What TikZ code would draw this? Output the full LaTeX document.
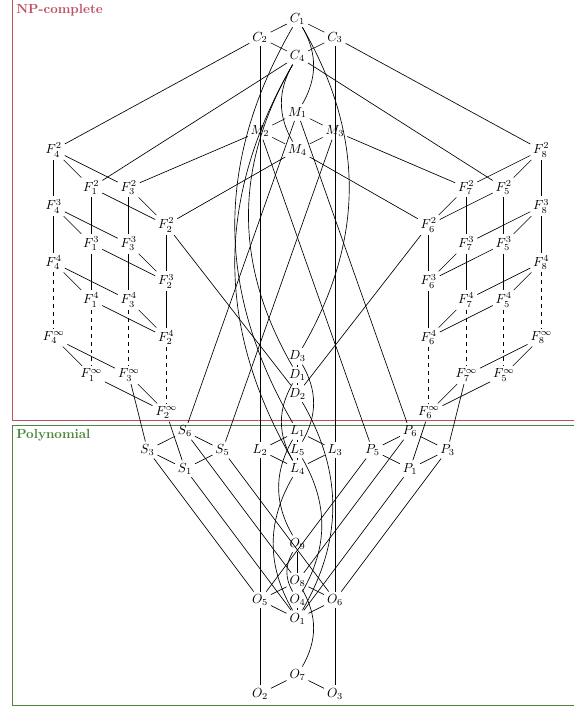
\documentclass[tikz,border=0pt]{standalone}
\usetikzlibrary{positioning}
\definecolor{npred}{RGB}{190,80,100}
\definecolor{polygreen}{RGB}{75,135,60}
\begin{document}
\begin{tikzpicture}[on grid, line width=0.5pt,
		cls/.style = {inner sep=2pt},
		region/.style = {line width=0.6pt},
		tag/.style = {anchor=north west, inner sep=3pt, font=\bfseries}]
	\useasboundingbox (-7.933,0) rectangle (7.347,-18.933);
	% the two regions
	\draw[region, npred] (-7.613,0.2) rectangle (7.613,-11.213);
	\draw[region, polygreen] (-7.613,-11.333) rectangle (7.613,-18.82);
	\node[tag, text=npred] (np) at (-7.613,0) {NP-complete};
	\node[tag, text=polygreen] (poly) at (-7.613,-11.333) {Polynomial};
	% C and M
	\node[cls] (C1) at (0,-0.5) {$C_1$};
	\node[cls] (C2) [below left=0.5cm and 1cm of C1] {$C_2$};
	\node[cls] (C3) [below right=0.5cm and 1cm of C1] {$C_3$};
	\node[cls] (C4) [below=1cm of C1] {$C_4$};
	\node[cls] (M1) at (0,-3) {$M_1$};
	\node[cls] (M2) [below left=0.5cm and 1cm of M1] {$M_2$};
	\node[cls] (M3) [below right=0.5cm and 1cm of M1] {$M_3$};
	\node[cls] (M4) [below=1cm of M1] {$M_4$};
	% left cube
	\node[cls] (F42) at (-6.5,-4) {$F_4^2$};
	\node[cls] (F12) [below right=1cm and 1cm of F42] {$F_1^2$};
	\node[cls] (F32) [below right=1cm and 2cm of F42] {$F_3^2$};
	\node[cls] (F22) [below right=2cm and 3cm of F42] {$F_2^2$};
	\node[cls] (F43) [below=1.5cm of F42] {$F_4^3$};
	\node[cls] (F13) [below right=1cm and 1cm of F43] {$F_1^3$};
	\node[cls] (F33) [below right=1cm and 2cm of F43] {$F_3^3$};
	\node[cls] (F23) [below right=2cm and 3cm of F43] {$F_2^3$};
	\node[cls] (F44) [below=1.5cm of F43] {$F_4^4$};
	\node[cls] (F14) [below right=1cm and 1cm of F44] {$F_1^4$};
	\node[cls] (F34) [below right=1cm and 2cm of F44] {$F_3^4$};
	\node[cls] (F24) [below right=2cm and 3cm of F44] {$F_2^4$};
	\node[cls] (F4i) [below=2cm of F44] {$F_4^\infty$};
	\node[cls] (F1i) [below right=1cm and 1cm of F4i] {$F_1^\infty$};
	\node[cls] (F3i) [below right=1cm and 2cm of F4i] {$F_3^\infty$};
	\node[cls] (F2i) [below right=2cm and 3cm of F4i] {$F_2^\infty$};
	% right cube
	\node[cls] (F82) at (6.5,-4) {$F_8^2$};
	\node[cls] (F52) [below left=1cm and 1cm of F82] {$F_5^2$};
	\node[cls] (F72) [below left=1cm and 2cm of F82] {$F_7^2$};
	\node[cls] (F62) [below left=2cm and 3cm of F82] {$F_6^2$};
	\node[cls] (F83) [below=1.5cm of F82] {$F_8^3$};
	\node[cls] (F53) [below left=1cm and 1cm of F83] {$F_5^3$};
	\node[cls] (F73) [below left=1cm and 2cm of F83] {$F_7^3$};
	\node[cls] (F63) [below left=2cm and 3cm of F83] {$F_6^3$};
	\node[cls] (F84) [below=1.5cm of F83] {$F_8^4$};
	\node[cls] (F54) [below left=1cm and 1cm of F84] {$F_5^4$};
	\node[cls] (F74) [below left=1cm and 2cm of F84] {$F_7^4$};
	\node[cls] (F64) [below left=2cm and 3cm of F84] {$F_6^4$};
	\node[cls] (F8i) [below=2cm of F84] {$F_8^\infty$};
	\node[cls] (F5i) [below left=1cm and 1cm of F8i] {$F_5^\infty$};
	\node[cls] (F7i) [below left=1cm and 2cm of F8i] {$F_7^\infty$};
	\node[cls] (F6i) [below left=2cm and 3cm of F8i] {$F_6^\infty$};
	% D
	\node[cls] (D3) at (0,-9.5) {$D_3$};
	\node[cls] (D1) [below=0.5cm of D3] {$D_1$};
	\node[cls] (D2) [below=0.5cm of D1] {$D_2$};
	% S, L, P
	\node[cls] (S6) at (-3,-11.5) {$S_6$};
	\node[cls] (S3) [below left=0.5cm and 1cm of S6] {$S_3$};
	\node[cls] (S5) [below right=0.5cm and 1cm of S6] {$S_5$};
	\node[cls] (S1) [below=1cm of S6] {$S_1$};
	\node[cls] (L1) at (0,-11.5) {$L_1$};
	\node[cls] (L2) [below left=0.5cm and 1cm of L1] {$L_2$};
	\node[cls] (L3) [below right=0.5cm and 1cm of L1] {$L_3$};
	\node[cls] (L5) [below=0.5cm of L1] {$L_5$};
	\node[cls] (L4) [below=1cm of L1] {$L_4$};
	\node[cls] (P6) at (3,-11.5) {$P_6$};
	\node[cls] (P5) [below left=0.5cm and 1cm of P6] {$P_5$};
	\node[cls] (P3) [below right=0.5cm and 1cm of P6] {$P_3$};
	\node[cls] (P1) [below=1cm of P6] {$P_1$};
	% O
	\node[cls] (O9) at (0,-14.5) {$O_9$};
	\node[cls] (O8) [below=1cm of O9] {$O_8$};
	\node[cls] (O5) [below left=0.5cm and 1cm of O8] {$O_5$};
	\node[cls] (O6) [below right=0.5cm and 1cm of O8] {$O_6$};
	\node[cls] (O4) [below=0.5cm of O8] {$O_4$};
	\node[cls] (O1) [below=1cm of O8] {$O_1$};
	\node[cls] (O7) at (0,-18) {$O_7$};
	\node[cls] (O2) [below left=0.5cm and 1cm of O7] {$O_2$};
	\node[cls] (O3) [below right=0.5cm and 1cm of O7] {$O_3$};
	% edges at the top
	\draw (C1) -- (C2);
	\draw (C1) -- (C3);
	\draw (C2) -- (C4);
	\draw (C3) -- (C4);
	\draw (C1) to[bend left] (M1);
	\draw (C1) to[bend left] (D3);
	\draw (C1) to[bend right] (L1);
	\draw (C2) -- (L2);
	\draw (C3) -- (L3);
	\draw (C2) -- (F42);
	\draw (C3) -- (F82);
	\draw (C4) to[bend right] (M4);
	\draw (C4) to[bend right] (D1);
	\draw (C4) to[bend right] (L4);
	\draw (C4) -- (F12);
	\draw (C4) -- (F52);
	\draw (M1) -- (M2);
	\draw (M1) -- (M3);
	\draw (M2) -- (M4);
	\draw (M3) -- (M4);
	\draw (M1) -- (S6);
	\draw (M1) -- (P6);
	\draw (M2) -- (F32);
	\draw (M2) -- (P5);
	\draw (M3) -- (F72);
	\draw (M3) -- (S5);
	\draw (M4) -- (F22);
	\draw (M4) -- (F62);
	% left cube
	\draw (F42) -- (F12);
	\draw (F42) -- (F32);
	\draw (F12) -- (F22);
	\draw (F32) -- (F22);
	\draw (F43) -- (F13);
	\draw (F43) -- (F33);
	\draw (F13) -- (F23);
	\draw (F33) -- (F23);
	\draw (F44) -- (F14);
	\draw (F44) -- (F34);
	\draw (F14) -- (F24);
	\draw (F34) -- (F24);
	\draw (F4i) -- (F1i);
	\draw (F4i) -- (F3i);
	\draw (F1i) -- (F2i);
	\draw (F3i) -- (F2i);
	\draw (F42) -- (F43);
	\draw (F43) -- (F44);
	\draw[dashed] (F44) -- (F4i);
	\draw (F12) -- (F13);
	\draw (F13) -- (F14);
	\draw[dashed] (F14) -- (F1i);
	\draw (F32) -- (F33);
	\draw (F33) -- (F34);
	\draw[dashed] (F34) -- (F3i);
	\draw (F22) -- (F23);
	\draw (F23) -- (F24);
	\draw[dashed] (F24) -- (F2i);
	% right cube
	\draw (F82) -- (F52);
	\draw (F82) -- (F72);
	\draw (F52) -- (F62);
	\draw (F72) -- (F62);
	\draw (F83) -- (F53);
	\draw (F83) -- (F73);
	\draw (F53) -- (F63);
	\draw (F73) -- (F63);
	\draw (F84) -- (F54);
	\draw (F84) -- (F74);
	\draw (F54) -- (F64);
	\draw (F74) -- (F64);
	\draw (F8i) -- (F5i);
	\draw (F8i) -- (F7i);
	\draw (F5i) -- (F6i);
	\draw (F7i) -- (F6i);
	\draw (F82) -- (F83);
	\draw (F83) -- (F84);
	\draw[dashed] (F84) -- (F8i);
	\draw (F52) -- (F53);
	\draw (F53) -- (F54);
	\draw[dashed] (F54) -- (F5i);
	\draw (F72) -- (F73);
	\draw (F73) -- (F74);
	\draw[dashed] (F74) -- (F7i);
	\draw (F62) -- (F63);
	\draw (F63) -- (F64);
	\draw[dashed] (F64) -- (F6i);
	% down into the polynomial part
	\draw (F22) -- (D2);
	\draw (F62) -- (D2);
	\draw (F3i) -- (S3);
	\draw (F2i) -- (S1);
	\draw (F7i) -- (P3);
	\draw (F6i) -- (P1);
	\draw (D3) -- (D1);
	\draw (D1) -- (D2);
	\draw (D3) to[bend left] (L5);
	\draw (D1) to[bend right] (L4);
	\draw (D2) to[bend left] (O1);
	\draw (L1) -- (L2);
	\draw (L1) -- (L3);
	\draw (L1) -- (L5);
	\draw (L5) -- (L4);
	\draw (L2) -- (L4);
	\draw (L3) -- (L4);
	\draw (L1) to[bend right] (O9);
	\draw (L2) -- (O5);
	\draw (L3) -- (O6);
	\draw (L5) to[bend left] (O4);
	\draw (L4) to[bend right] (O1);
	\draw (S6) -- (S3);
	\draw (S6) -- (S5);
	\draw (S3) -- (S1);
	\draw (S5) -- (S1);
	\draw (S6) -- (O8);
	\draw (S3) -- (O5);
	\draw (S5) -- (O6);
	\draw (S1) -- (O1);
	\draw (P6) -- (P5);
	\draw (P6) -- (P3);
	\draw (P5) -- (P1);
	\draw (P3) -- (P1);
	\draw (P6) -- (O8);
	\draw (P5) -- (O5);
	\draw (P3) -- (O6);
	\draw (P1) -- (O1);
	% bottom
	\draw (O9) -- (O8);
	\draw (O9) to[bend right] (O4);
	\draw (O8) -- (O5);
	\draw (O8) -- (O6);
	\draw (O5) -- (O1);
	\draw (O6) -- (O1);
	\draw (O4) -- (O1);
	\draw (O8) to[bend left] (O7);
	\draw (O5) -- (O2);
	\draw (O6) -- (O3);
	\draw (O7) -- (O2);
	\draw (O7) -- (O3);
\end{tikzpicture}
\end{document}
